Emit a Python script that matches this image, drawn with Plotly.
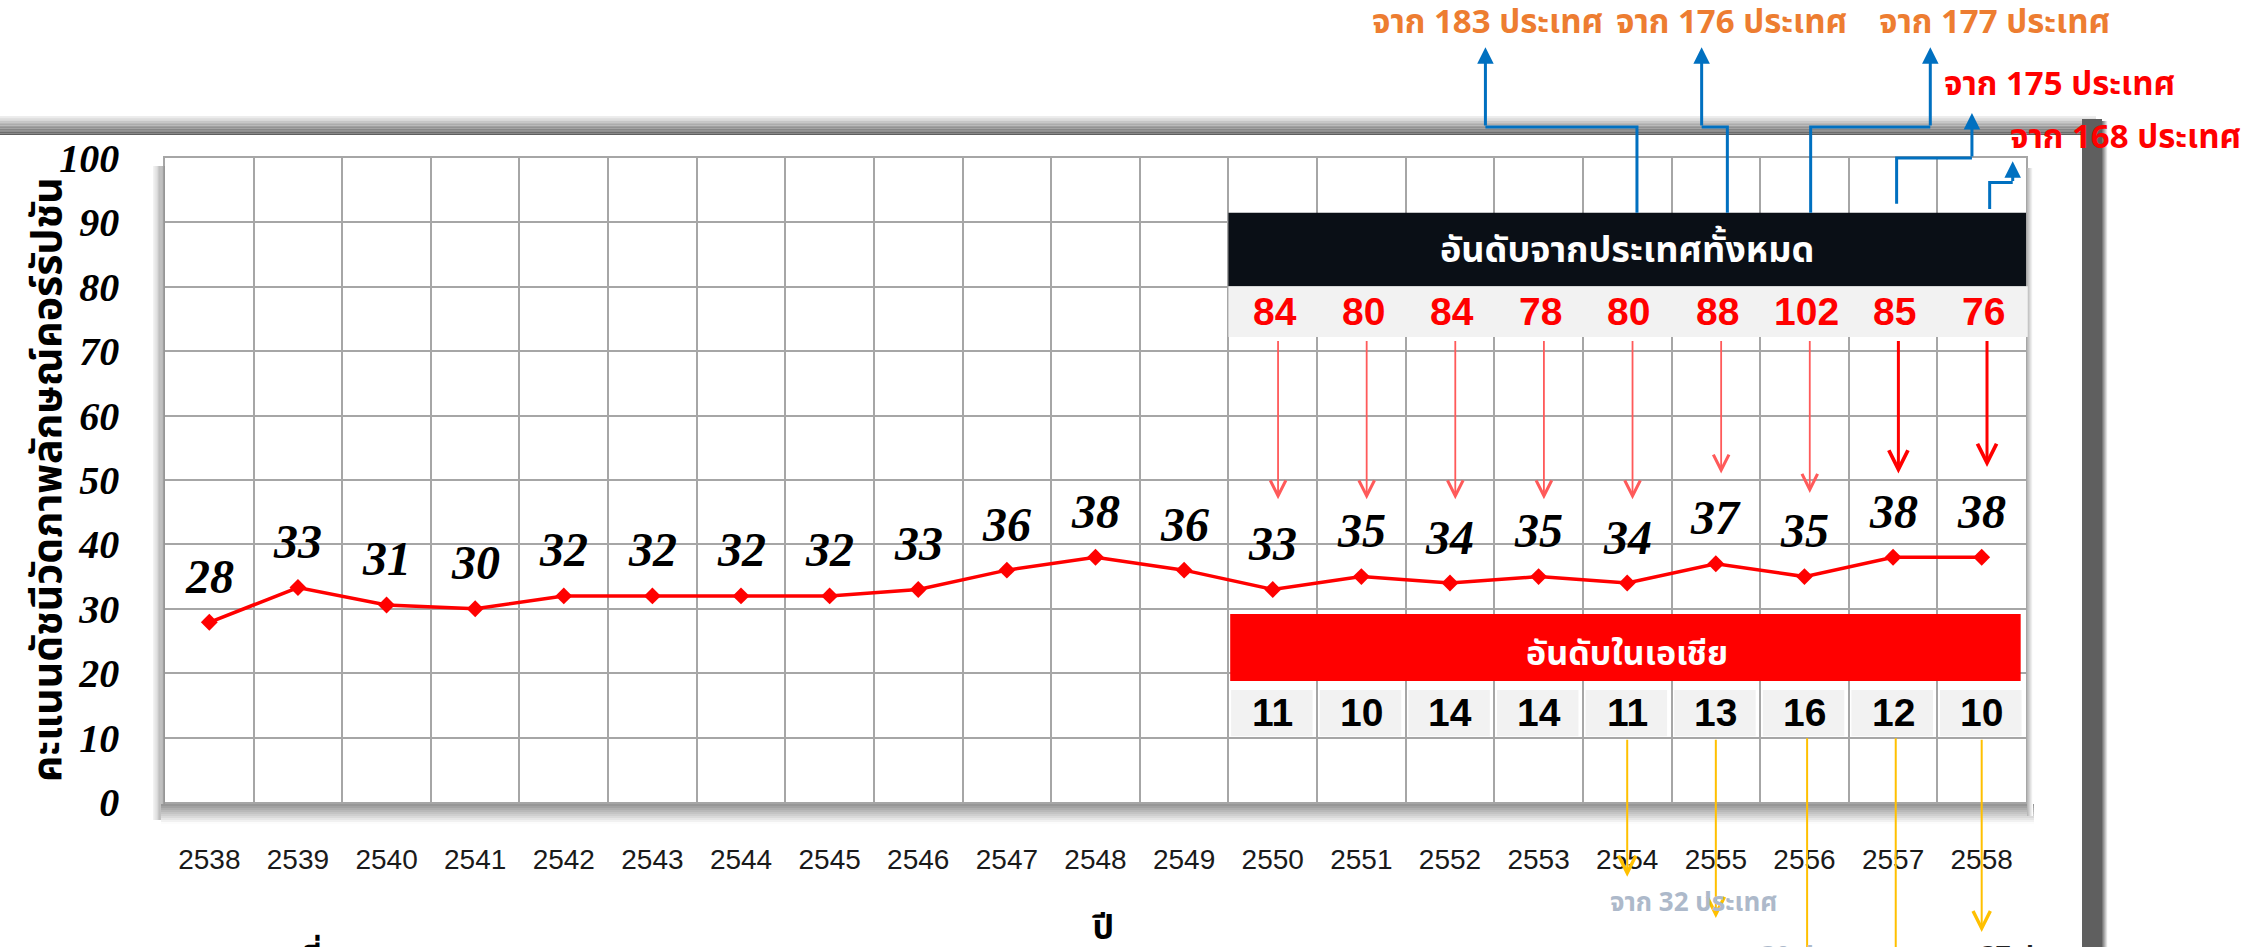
import plotly.graph_objects as go

# ---------------- data ----------------
years = [str(y) for y in range(2538, 2559)]
cpi_score = [27.9, 33.3, 30.6, 30.0, 32.0, 32.0, 32.0, 32.0, 33.0, 36.0, 38.0, 36.0,
             33.0, 35.0, 34.0, 35.0, 34.0, 37.0, 35.0, 38.0, 38.0]
cpi_label = ["28", "33", "31", "30", "32", "32", "32", "32", "33", "36", "38", "36",
             "33", "35", "34", "35", "34", "37", "35", "38", "38"]
rank_years = ["2550", "2551", "2552", "2553", "2554", "2555", "2556", "2557", "2558"]
world_rank = [84, 80, 84, 78, 80, 88, 102, 85, 76]
asia_rank = [11, 10, 14, 14, 11, 13, 16, 12, 10]
world_total_years = ["2554", "2555", "2556", "2557", "2558"]
world_total = [183, 176, 177, 175, 168]
asia_total_years = ["2554"]
asia_total = [32]

y_title = "คะแนนดัชนีวัดภาพลักษณ์คอร์รัปชัน"
x_title = "ปี"
world_header = "อันดับจากประเทศทั้งหมด"
asia_header = "อันดับในเอเชีย"

# ---------------- layout geometry ----------------
W, H = 2245, 947
PL, PR, PT, PB = 165, 2026, 158, 802
N = len(years)
ux = (PR - PL) / N
uy = (PB - PT) / 100.0
x2range = [-0.5 - PL / ux, N - 0.5 + (W - PR) / ux]
y2range = [-(H - PB) / uy, 100 + PT / uy]


def col(year):
    return years.index(year)


def fx(p):
    return p / W


def fy(p):
    return 1 - p / H


THAI = "Noto Sans Thai, Noto Sans Thai UI, Loma, Garuda, Noto Sans, sans-serif"
SCRIPT = "Liberation Serif, DejaVu Serif, serif"
NARROW = "Liberation Sans Narrow, Arial Narrow, Liberation Sans, sans-serif"
SANS = "Liberation Sans, Arial, sans-serif"

shapes = []
annotations = []


def mix(c1, c2, t):
    return "rgb(%d,%d,%d)" % tuple(round(a + (b - a) * t) for a, b in zip(c1, c2))


# ---------------- frame (slide border shadow) ----------------
n = 12
for k in range(n):
    y0 = 116 + k * 19 / n
    y1 = 116 + (k + 1) * 19 / n
    shapes.append(dict(type="rect", xref="paper", yref="paper", x0=0, x1=fx(2096),
                       y0=fy(y1), y1=fy(y0), line_width=0,
                       fillcolor=mix((250, 250, 250), (95, 95, 95), (k + 1) / n)))
shapes.append(dict(type="rect", xref="paper", yref="paper", x0=fx(2082), x1=fx(2102),
                   y0=0, y1=fy(119), line_width=0, fillcolor="#5f5f5f"))
for k in range(6):
    shapes.append(dict(type="rect", xref="paper", yref="paper", x0=fx(2102 + k), x1=fx(2103 + k),
                       y0=0, y1=fy(121), line_width=0,
                       fillcolor=mix((95, 95, 95), (250, 250, 250), (k + 1) / 6)))

# ---------------- plot-area shadow ----------------
for k in range(10):
    shapes.append(dict(type="rect", xref="paper", yref="paper",
                       x0=fx(PL - 12 + k * 1.2), x1=fx(PL - 12 + (k + 1) * 1.2),
                       y0=fy(PB + 18), y1=fy(PT + 8), line_width=0,
                       fillcolor=mix((252, 252, 252), (150, 150, 150), (k + 1) / 10)))
for k in range(10):
    shapes.append(dict(type="rect", xref="paper", yref="paper",
                       x0=fx(PL - 4), x1=fx(PR + 8),
                       y0=fy(PB + 2 + (k + 1) * 2), y1=fy(PB + 2 + k * 2), line_width=0,
                       fillcolor=mix((140, 140, 140), (252, 252, 252), (k + 1) / 10)))
for k in range(6):
    shapes.append(dict(type="rect", xref="paper", yref="paper",
                       x0=fx(PR + 1 + k), x1=fx(PR + 2 + k),
                       y0=fy(PB + 14), y1=fy(PT + 10), line_width=0,
                       fillcolor=mix((170, 170, 170), (252, 252, 252), (k + 1) / 6)))

# ---------------- world rank table ----------------
first = col(rank_years[0])
last = col(rank_years[-1])
shapes.append(dict(type="rect", xref="x2", yref="y2", x0=first - 0.5, x1=last + 0.5,
                   y0=80.1, y1=91.5, line_width=0, fillcolor="#0a0f16"))
shapes.append(dict(type="rect", xref="x2", yref="y2", x0=first - 0.5, x1=last + 0.52,
                   y0=72.2, y1=80.1, line_width=0, fillcolor="#f2f2f2"))
annotations.append(dict(xref="x2", yref="y2", x=(first + last) / 2, y=85.6, text="<b>%s</b>" % world_header,
                        showarrow=False, font=dict(family=THAI, size=36, color="white")))

red_tip = [47, 47, 47, 47, 47, 51, 48, 51, 52]
for i, (yr, r) in enumerate(zip(rank_years, world_rank)):
    c = col(yr)
    annotations.append(dict(xref="x2", yref="y2", x=c + 0.02, y=76.1, text="<b>%d</b>" % r,
                            showarrow=False, font=dict(family=SANS, size=39, color="#ff0000")))
    strong = i >= 7
    annotations.append(dict(xref="x2", yref="y2", axref="x2", ayref="y2",
                            x=c + 0.06, y=red_tip[i], ax=c + 0.06, ay=71.8, text="",
                            showarrow=True, arrowhead=5,
                            arrowsize=1.25 if strong else 1.7,
                            arrowwidth=3 if strong else 1.8,
                            arrowcolor="#ff0000" if strong else "#ff5a5a"))

# ---------------- asia rank table ----------------
shapes.append(dict(type="rect", xref="x2", yref="y2", x0=first - 0.48, x1=last + 0.44,
                   y0=18.8, y1=29.2, line_width=0, fillcolor="#ff0000"))
annotations.append(dict(xref="x2", yref="y2", x=(first + last) / 2, y=22.9, text="<b>%s</b>" % asia_header,
                        showarrow=False, font=dict(family=THAI, size=34, color="white")))
for yr, r in zip(rank_years, asia_rank):
    c = col(yr)
    shapes.append(dict(type="rect", xref="x2", yref="y2", x0=c - 0.47, x1=c + 0.45,
                       y0=10.2, y1=17.4, line_width=0, fillcolor="#f2f2f2"))
    annotations.append(dict(xref="x2", yref="y2", x=c, y=13.9, text="<b>%d</b>" % r,
                            showarrow=False, font=dict(family=SANS, size=39, color="black")))

# ---------------- yellow arrows (asia totals) ----------------
yellow_tip = {"2554": -11.6, "2555": -18.0, "2558": -20.2}
for yr in ["2554", "2555", "2556", "2557", "2558"]:
    c = col(yr)
    if yr in yellow_tip:
        annotations.append(dict(xref="x2", yref="y2", axref="x2", ayref="y2",
                                x=c, y=yellow_tip[yr], ax=c, ay=9.9, text="", showarrow=True,
                                arrowhead=5, arrowsize=1.7, arrowwidth=2, arrowcolor="#ffc000"))
    else:
        shapes.append(dict(type="line", xref="x2", yref="y2", x0=c + 0.03, x1=c + 0.03,
                           y0=9.9, y1=y2range[0] - 1, line=dict(color="#ffc000", width=2)))
for yr, t in zip(asia_total_years, asia_total):
    annotations.append(dict(xref="x2", yref="y2", x=col(yr) + 0.75, y=-15.7,
                            text="<b>จาก %d ประเทศ</b>" % t, showarrow=False,
                            font=dict(family=THAI, size=26, color="#adb9ca")))
# cut-off captions at the very bottom edge
annotations.append(dict(xref="paper", yref="paper", x=fx(1710), y=fy(935), xanchor="left", yanchor="top",
                        text="<b>จาก 30 ประเทศ</b>", showarrow=False,
                        font=dict(family=THAI, size=26, color="#adb9ca")))
annotations.append(dict(xref="paper", yref="paper", x=fx(1930), y=fy(935), xanchor="left", yanchor="top",
                        text="<b>จาก 37 ประเทศ</b>", showarrow=False,
                        font=dict(family=THAI, size=26, color="#222222")))

# ---------------- blue elbow connectors (world totals) ----------------
# (start y, elbow y, elbow x offset, tip y)
conn = {
    "2554": (91.5, 104.8, -1.71, 117.2),
    "2555": (91.5, 104.8, -0.29, 117.2),
    "2556": (91.5, 104.8, 1.35, 117.2),
    "2557": (92.9, 100.0, 0.85, 107.0),
    "2558": (92.1, 96.2, 0.26, 99.5),
}
xoff = {"2554": 0.11, "2555": 0.13, "2556": 0.07, "2557": 0.04, "2558": 0.09}
label_pos = {"2554": (14.42, 120.9), "2555": (17.18, 120.9), "2556": (20.15, 120.9),
             "2557": (20.88, 111.3), "2558": (21.62, 103.1)}
label_col = {"2554": "#ed7d31", "2555": "#ed7d31", "2556": "#ed7d31",
             "2557": "#ff0000", "2558": "#ff0000"}
for yr, tot in zip(world_total_years, world_total):
    c = col(yr) + xoff[yr]
    ys, ye, dx, yt = conn[yr]
    xe = c + dx
    shapes.append(dict(type="path", xref="x2", yref="y2",
                       path="M %f,%f L %f,%f L %f,%f" % (c, ys, c, ye, xe, ye),
                       line=dict(color="#0070c0", width=3)))
    annotations.append(dict(xref="x2", yref="y2", axref="x2", ayref="y2",
                            x=xe, y=yt, ax=xe, ay=ye, text="", showarrow=True,
                            arrowhead=2, arrowsize=1.1, arrowwidth=3, arrowcolor="#0070c0"))
    lx, ly = label_pos[yr]
    annotations.append(dict(xref="x2", yref="y2", x=lx, y=ly,
                            text="<b>จาก %d ประเทศ</b>" % tot, showarrow=False,
                            font=dict(family=THAI, size=33, color=label_col[yr])))

# ---------------- data labels ----------------
for yr, v, lab in zip(years, cpi_score, cpi_label):
    annotations.append(dict(xref="x2", yref="y2", x=col(yr), y=v, yshift=46,
                            text="<b><i>%s</i></b>" % lab,
                            showarrow=False, font=dict(family=SCRIPT, size=48, color="black")))

# ---------------- titles ----------------
annotations.append(dict(xref="paper", yref="paper", x=fx(48), y=fy(480), textangle=-90,
                        xanchor="center", yanchor="middle",
                        text="<b>%s</b>" % y_title, showarrow=False,
                        font=dict(family=THAI, size=41, color="black")))
annotations.append(dict(xref="paper", yref="paper", x=fx(1103), y=fy(928),
                        xanchor="center", yanchor="middle",
                        text="<b>%s</b>" % x_title, showarrow=False,
                        font=dict(family=THAI, size=34, color="black")))
annotations.append(dict(xref="paper", yref="paper", x=fx(300), y=fy(932), xanchor="left", yanchor="top",
                        text="<b>ที่มา</b>", showarrow=False,
                        font=dict(family=THAI, size=32, color="black")))

# ---------------- figure ----------------
fig = go.Figure()
fig.add_trace(go.Scatter(x=years, y=cpi_score, mode="lines+markers",
                         line=dict(color="#ff0000", width=3.5),
                         marker=dict(symbol="diamond", size=13, color="#ff0000"),
                         hoverinfo="x+y", showlegend=False))
fig.add_trace(go.Scatter(x=[], y=[], xaxis="x2", yaxis="y2", showlegend=False, hoverinfo="skip"))

fig.update_layout(
    width=W, height=H,
    margin=dict(l=0, r=0, t=0, b=0),
    paper_bgcolor="white",
    plot_bgcolor="rgba(0,0,0,0)",
    showlegend=False,
    xaxis=dict(domain=[fx(PL), fx(PR)], type="category", range=[-0.5, N - 0.5],
               tickson="boundaries", showgrid=True, gridcolor="#a6a6a6", gridwidth=1.5,
               showline=True, linecolor="#a6a6a6", linewidth=1.5, mirror=True,
               ticks="", ticklabelstandoff=32, automargin=False, fixedrange=True,
               tickfont=dict(family=NARROW, size=28, color="#1a1a1a"), anchor="y"),
    yaxis=dict(domain=[fy(PB), fy(PT)], range=[0, 100], dtick=10, tick0=0,
               showgrid=True, gridcolor="#a6a6a6", gridwidth=1.5, zeroline=False,
               showline=True, linecolor="#a6a6a6", linewidth=1.5, mirror=True,
               ticks="", ticklabelstandoff=36, automargin=False, fixedrange=True,
               tickfont=dict(family=SCRIPT, size=40, color="black", weight="bold", style="italic"),
               anchor="x"),
    xaxis2=dict(domain=[0, 1], range=x2range, visible=False, anchor="y2", fixedrange=True),
    yaxis2=dict(domain=[0, 1], range=y2range, visible=False, anchor="x2", fixedrange=True),
    shapes=shapes,
    annotations=annotations,
)

fig.write_html("out.html", config={"displayModeBar": False},
               post_script="document.body.style.margin='0px';document.body.style.overflow='hidden';")
